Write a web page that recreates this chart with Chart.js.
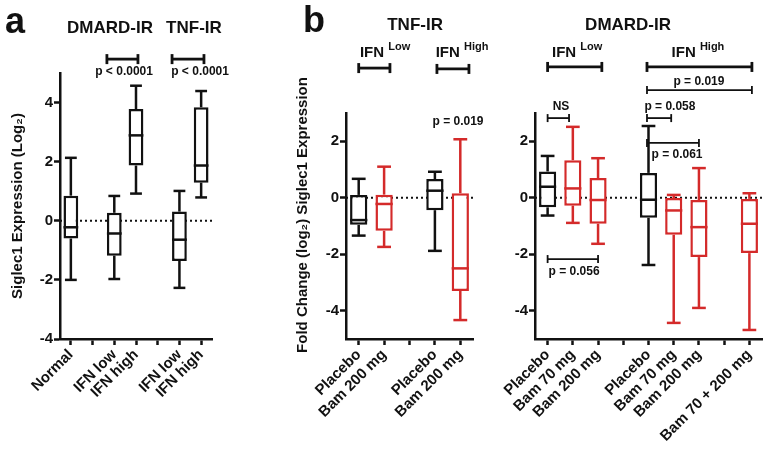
<!DOCTYPE html>
<html>
<head>
<meta charset="utf-8">
<script src="https://cdn.jsdelivr.net/npm/chart.js@4.4.1/dist/chart.umd.min.js"></script>
<style>
  body { margin: 0; background: #fff; width: 768px; height: 456px; position: relative; overflow: hidden; }
  canvas { position: absolute; top: 0; }
  #panelA { left: 0; }
  #panelB1 { left: 240px; }
  #panelB2 { left: 470px; }
</style>
</head>
<body>
<canvas id="panelA" width="240" height="456"></canvas>
<canvas id="panelB1" width="260" height="456"></canvas>
<canvas id="panelB2" width="298" height="456"></canvas>
<script>
/* global Chart */
const FONT = '"Liberation Sans", Arial, Helvetica, sans-serif';
const BLACK = '#111';
const RED = '#d42a2a';

// panel a : Siglec1 expression
const aLabels = ['Normal', '', 'IFN low', 'IFN high', '', 'IFN low', 'IFN high'];
const aTicks = [-4, -2, 0, 2, 4];
const aMin = [-2.0, null, -1.97, 0.92, null, -2.27, 0.79];
const aQ1  = [-0.6, null, -1.18, 1.87, null, -1.36, 1.29];
const aMed = [-0.22, null, -0.43, 2.89, null, -0.64, 1.87];
const aQ3  = [0.85, null, 0.27, 3.78, null, 0.31, 3.84];
const aMax = [2.13, null, 0.84, 4.57, null, 1.01, 4.39];

// panel b, TNF-IR
const bTicks = [-4, -2, 0, 2];
const b1Labels = ['Placebo', 'Bam 200 mg', '', 'Placebo', 'Bam 200 mg'];
const b1Min = [-1.34, -1.74, null, -1.88, -4.33];
const b1Q1  = [-0.96, -1.17, null, -0.44, -3.30];
const b1Med = [-0.79, -0.22, null, 0.25, -2.50];
const b1Q3  = [0.10, 0.11, null, 0.66, 0.16];
const b1Max = [0.67, 1.10, null, 0.92, 2.07];

// panel b, DMARD-IR
const b2Labels = ['Placebo', 'Bam 70 mg', 'Bam 200 mg', '', 'Placebo', 'Bam 70 mg', 'Bam 200 mg', '', 'Bam 70 + 200 mg'];
const b2Min = [-0.63, -0.89, -1.63, null, -2.38, -4.43, -3.90, null, -4.68];
const b2Q1  = [-0.34, -0.28, -0.92, null, -0.71, -1.31, -2.10, null, -1.96];
const b2Med = [0.39, 0.33, -0.08, null, -0.07, -0.45, -1.04, null, -0.92];
const b2Q3  = [0.93, 1.33, 0.70, null, 0.88, -0.01, -0.08, null, -0.04];
const b2Max = [1.48, 2.51, 1.40, null, 2.54, 0.10, 1.05, null, 0.16];

function boxColor(label) {
  return label.startsWith('Bam') ? RED : BLACK;
}

function line(ctx, x1, y1, x2, y2) {
  ctx.beginPath();
  ctx.moveTo(x1, y1);
  ctx.lineTo(x2, y2);
  ctx.stroke();
}

const boxParts = {
  id: 'boxParts',
  beforeDatasetsDraw(chart) {
    const {ctx, chartArea: a, scales: {y}} = chart;
    const y0 = y.getPixelForValue(0);
    ctx.save();
    ctx.setLineDash([2, 3]);
    ctx.lineWidth = 2;
    ctx.strokeStyle = BLACK;
    line(ctx, a.left, y0, a.right, y0);
    ctx.restore();
  },
  afterDatasetsDraw(chart, args, o) {
    const {ctx, scales: {y}} = chart;
    const meta = chart.getDatasetMeta(0);
    ctx.save();
    ctx.lineWidth = 2.5;
    meta.data.forEach((bar, i) => {
      if (o.q1[i] == null) return;
      const half = bar.width / 2;
      const cap = bar.width * 0.4;
      ctx.strokeStyle = boxColor(o.labels[i]);
      const yMax = y.getPixelForValue(o.max[i]);
      const yMin = y.getPixelForValue(o.min[i]);
      const yQ3 = y.getPixelForValue(o.q3[i]);
      const yQ1 = y.getPixelForValue(o.q1[i]);
      const yMed = y.getPixelForValue(o.med[i]);
      line(ctx, bar.x, yQ3, bar.x, yMax);
      line(ctx, bar.x - cap, yMax, bar.x + cap, yMax);
      line(ctx, bar.x, yQ1, bar.x, yMin);
      line(ctx, bar.x - cap, yMin, bar.x + cap, yMin);
      line(ctx, bar.x - half, yMed, bar.x + half, yMed);
    });
    ctx.restore();
  },
  afterDraw(chart, args, o) {
    const {ctx, scales: {x, y}} = chart;
    const px = i => x.getPixelForValue(0) + i * (x.getPixelForValue(1) - x.getPixelForValue(0));
    ctx.save();
    ctx.fillStyle = BLACK;
    ctx.strokeStyle = BLACK;
    (o.notes || []).forEach(n => {
      if (n.type === 'text') {
        ctx.font = 'bold ' + n.size + 'px ' + FONT;
        ctx.textAlign = 'center';
        ctx.textBaseline = 'middle';
        ctx.fillText(n.text, px(n.x), y.getPixelForValue(n.y));
      } else if (n.type === 'sup') {
        ctx.textBaseline = 'alphabetic';
        ctx.textAlign = 'left';
        ctx.font = 'bold 15px ' + FONT;
        const w1 = ctx.measureText(n.text + ' ').width;
        ctx.font = 'bold 11px ' + FONT;
        const w2 = ctx.measureText(n.sup).width;
        const x0 = px(n.x) - (w1 + w2) / 2;
        const yb = y.getPixelForValue(n.y);
        ctx.font = 'bold 15px ' + FONT;
        ctx.fillText(n.text + ' ', x0, yb);
        ctx.font = 'bold 11px ' + FONT;
        ctx.fillText(n.sup, x0 + w1, yb - 7);
      } else if (n.type === 'bracket') {
        const x1 = px(n.x1), x2 = px(n.x2), yy = y.getPixelForValue(n.y);
        ctx.lineWidth = n.lw;
        line(ctx, x1, yy, x2, yy);
        line(ctx, x1, yy - n.cap, x1, yy + n.cap);
        line(ctx, x2, yy - n.cap, x2, yy + n.cap);
      }
    });
    if (o.letter) {
      ctx.font = 'bold 36px ' + FONT;
      ctx.textAlign = 'left';
      ctx.textBaseline = 'alphabetic';
      ctx.fillText(o.letter.text, o.letter.x, o.letter.y);
    }
    if (o.yTitle) {
      ctx.font = 'bold 15px ' + FONT;
      ctx.textAlign = 'center';
      ctx.textBaseline = 'middle';
      ctx.translate(o.yTitle.x, o.yTitle.y);
      ctx.rotate(-Math.PI / 2);
      ctx.fillText(o.yTitle.text, 0, 0);
    }
    ctx.restore();
  }
};

function makePanel(id, p) {
  const tickFont = {family: FONT, size: 15, weight: 'bold'};
  const axisGrid = {drawOnChartArea: false, drawTicks: true, tickLength: 6, tickWidth: 2.5, tickColor: BLACK, offset: false};
  const axisBorder = {display: true, color: BLACK, width: 2.5};
  return new Chart(document.getElementById(id), {
    type: 'bar',
    data: {
      labels: p.labels,
      datasets: [{
        data: p.labels.map((l, i) => p.q1[i] == null ? null : [p.q1[i], p.q3[i]]),
        backgroundColor: '#fff',
        borderColor: p.labels.map(boxColor),
        borderWidth: 2.5,
        borderSkipped: false,
        categoryPercentage: 1,
        barPercentage: 0.68
      }]
    },
    options: {
      responsive: false,
      animation: false,
      devicePixelRatio: 1,
      layout: {padding: {left: 0, top: p.top, right: p.right, bottom: 0}},
      scales: {
        x: {
          grid: axisGrid,
          border: axisBorder,
          ticks: {font: tickFont, color: BLACK, autoSkip: false, minRotation: 45, maxRotation: 45, padding: 1},
          afterFit: s => { s.height = 117; s.paddingLeft = 0; s.paddingRight = 0; }
        },
        y: {
          min: p.yMin,
          max: p.yMax,
          grid: axisGrid,
          border: axisBorder,
          ticks: {font: tickFont, color: BLACK, padding: 1},
          afterBuildTicks: s => { s.ticks = p.ticks.map(v => ({value: v})); },
          title: p.title ? {display: true, text: p.title, color: BLACK, font: {family: FONT, size: 15, weight: 'bold'}, padding: {top: 9, bottom: 0}} : {display: false},
          afterFit: s => { s.width = p.yWidth; }
        }
      },
      plugins: {
        legend: {display: false},
        tooltip: {enabled: false},
        boxParts: {
          labels: p.labels, min: p.min, q1: p.q1, med: p.med, q3: p.q3, max: p.max,
          notes: p.notes, letter: p.letter, yTitle: p.yTitle
        }
      }
    },
    plugins: [boxParts]
  });
}

makePanel('panelA', {
  labels: aLabels, min: aMin, q1: aQ1, med: aMed, q3: aQ3, max: aMax, ticks: aTicks,
  yMin: -4, yMax: 5, top: 73, right: 28, yWidth: 60,
  title: 'Siglec1 Expression (Log\u2082)',
  letter: {text: 'a', x: 5, y: 33},
  notes: [
    {type: 'text', text: 'DMARD-IR', size: 17, x: 1.80, y: 6.52},
    {type: 'text', text: 'TNF-IR', size: 17, x: 5.67, y: 6.52},
    {type: 'bracket', x1: 1.66, x2: 3.09, y: 5.47, lw: 2.8, cap: 5},
    {type: 'bracket', x1: 4.66, x2: 6.13, y: 5.47, lw: 2.8, cap: 5},
    {type: 'text', text: 'p < 0.0001', size: 12, x: 2.45, y: 5.03},
    {type: 'text', text: 'p < 0.0001', size: 12, x: 5.95, y: 5.03}
  ]
});

makePanel('panelB1', {
  labels: b1Labels, min: b1Min, q1: b1Q1, med: b1Med, q3: b1Q3, max: b1Max, ticks: bTicks,
  yMin: -5, yMax: 3, top: 113, right: 27, yWidth: 106,
  letter: {text: 'b', x: 63, y: 32},
  yTitle: {text: 'Fold Change (log\u2082) Siglec1 Expression', x: 63, y: 215},
  notes: [
    {type: 'text', text: 'TNF-IR', size: 17, x: 2.22, y: 6.12},
    {type: 'sup', text: 'IFN', sup: 'Low', x: 1.04, y: 4.98},
    {type: 'sup', text: 'IFN', sup: 'High', x: 4.07, y: 4.98},
    {type: 'bracket', x1: 0, x2: 1.23, y: 4.59, lw: 2.8, cap: 5},
    {type: 'bracket', x1: 3.08, x2: 4.34, y: 4.56, lw: 2.8, cap: 5},
    {type: 'text', text: 'p = 0.019', size: 12, x: 3.91, y: 2.68}
  ]
});

makePanel('panelB2', {
  labels: b2Labels, min: b2Min, q1: b2Q1, med: b2Med, q3: b2Q3, max: b2Max, ticks: bTicks,
  yMin: -5, yMax: 3, top: 113, right: 6, yWidth: 65,
  notes: [
    {type: 'text', text: 'DMARD-IR', size: 17, x: 3.19, y: 6.12},
    {type: 'sup', text: 'IFN', sup: 'Low', x: 1.17, y: 4.98},
    {type: 'sup', text: 'IFN', sup: 'High', x: 5.96, y: 4.98},
    {type: 'bracket', x1: 0, x2: 2.15, y: 4.63, lw: 2.8, cap: 5},
    {type: 'bracket', x1: 3.94, x2: 8.1, y: 4.63, lw: 2.8, cap: 5},
    {type: 'text', text: 'p = 0.019', size: 12, x: 6.0, y: 4.10},
    {type: 'bracket', x1: 3.94, x2: 8.1, y: 3.81, lw: 1.8, cap: 4},
    {type: 'text', text: 'p = 0.058', size: 12, x: 4.85, y: 3.21},
    {type: 'bracket', x1: 3.94, x2: 4.9, y: 2.82, lw: 1.8, cap: 4},
    {type: 'bracket', x1: 3.94, x2: 6.0, y: 1.94, lw: 1.8, cap: 4},
    {type: 'text', text: 'p = 0.061', size: 12, x: 5.13, y: 1.51},
    {type: 'text', text: 'NS', size: 12, x: 0.53, y: 3.21},
    {type: 'bracket', x1: 0, x2: 0.85, y: 2.82, lw: 1.8, cap: 4},
    {type: 'bracket', x1: 0, x2: 2, y: -2.17, lw: 1.8, cap: 4},
    {type: 'text', text: 'p = 0.056', size: 12, x: 1.05, y: -2.63}
  ]
});
</script>
</body>
</html>
